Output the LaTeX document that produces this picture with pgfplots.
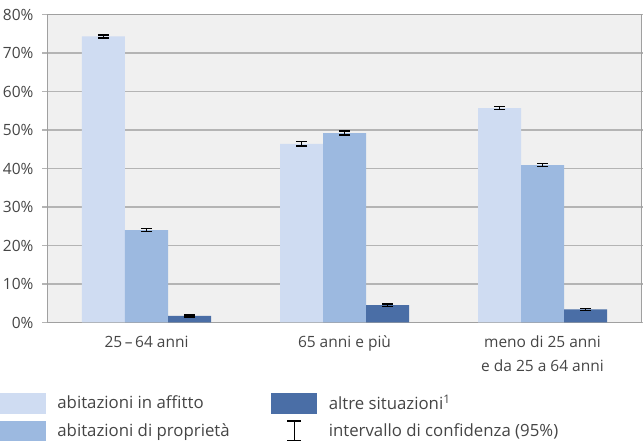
\documentclass[border=0pt]{standalone}
\usepackage{pgfplots}
\pgfplotsset{compat=1.18}
\usepackage{fontspec}
\setmainfont{Open Sans}
\definecolor{txt}{HTML}{454545}
\definecolor{cA}{HTML}{CFDCF2}
\definecolor{cB}{HTML}{9CB9E0}
\definecolor{cC}{HTML}{4A6EA6}
\definecolor{bg}{HTML}{F0F0F0}
\definecolor{gridc}{HTML}{B4B4B4}
\definecolor{framec}{HTML}{A0A0A0}
\pgfplotsset{errs/.style={error bars/.cd, y dir=both, y explicit,
    error mark options={rotate=90, mark size=5.5pt, line width=1.5pt, black},
    error bar style={line width=1.2pt, black}}}
\begin{document}
\begin{tikzpicture}
\path[use as bounding box] (0,0) rectangle (643pt,441pt);
\begin{axis}[
    at={(47.5pt,118.5pt)}, anchor=south west,
    scale only axis, width=594pt, height=308pt,
    ybar=0pt, bar width=43pt,
    xmin=-0.5, xmax=2.5, ymin=0, ymax=80,
    xtick={0,1,2},
    xticklabels={25\,--\,64 anni, 65 anni e più, {meno di 25 anni\\e da 25 a 64 anni}},
    xtick style={draw=none},
    ytick={0,10,...,80},
    yticklabel={\pgfmathprintnumber{\tick}\%},
    /pgf/number format/assume math mode=true,
    ymajorgrids, grid style={gridc, line width=1.2pt},
    tick align=outside, major tick length=5pt,
    ytick style={gridc, line width=1.2pt},
    axis line style={framec, line width=1.6pt},
    axis background/.style={fill=bg},
    ticklabel style={text=txt, font=\fontsize{15.5}{24}\selectfont},
    xticklabel style={align=center, yshift=-5pt},
    yticklabel style={xshift=-5.5pt},
    legend style={draw=none, fill=none, inner sep=0pt, outer sep=0pt,
        anchor=north west, at={(-0.080,-0.229)},
        font=\fontsize{16.8}{18}\selectfont, text=txt,
        nodes={inner sep=0pt},
        /tikz/every odd column/.append style={column sep=12pt},
        /tikz/row sep=7pt},
    legend columns=2, legend cell align=left,
]
\addplot[fill=cA, draw=none, forget plot, bar shift=-43pt, errs] coordinates {
    (0,74.3) +- (0,0.4)
    (1,46.4) +- (0,0.55)
    (2,55.7) +- (0,0.35)
};
\addplot[fill=cB, draw=none, forget plot, bar shift=0pt, errs] coordinates {
    (0,24.0) +- (0,0.35)
    (1,49.2) +- (0,0.5)
    (2,40.9) +- (0,0.35)
};
\addplot[fill=cC, draw=none, forget plot, bar shift=43pt, errs] coordinates {
    (0,1.7) +- (0,0.25)
    (1,4.5) +- (0,0.3)
    (2,3.4) +- (0,0.25)
};
\addlegendimage{legend image code/.code={\fill[cA] (0pt,-10pt) rectangle (45pt,10pt);}}
\addlegendentry{\makebox[214pt][l]{abitazioni in affitto}}
\addlegendimage{legend image code/.code={\fill[cC] (0pt,-10pt) rectangle (45pt,10pt);}}
\addlegendentry{altre situazioni\textsuperscript{1}}
\addlegendimage{legend image code/.code={\fill[cB] (0pt,-10pt) rectangle (45pt,10pt);}}
\addlegendentry{\makebox[214pt][l]{abitazioni di proprietà}}
\addlegendimage{legend image code/.code={%
    \path[draw=none, fill=none] (0pt,-10pt) rectangle (45pt,10pt);
    \draw[black, line width=1.1pt] (22.5pt,-10pt) -- (22.5pt,10pt)
        (15.5pt,-10pt) -- (29.5pt,-10pt) (15.5pt,10pt) -- (29.5pt,10pt);}}
\addlegendentry{intervallo di confidenza (95\%)}
\end{axis}
\end{tikzpicture}
\end{document}
